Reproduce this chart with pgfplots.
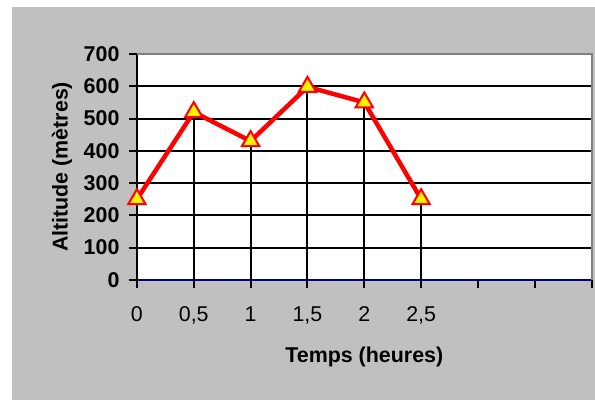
\documentclass[border=0pt]{standalone}
\usepackage{fontspec}
\setmainfont{Liberation Sans}
\usepackage{pgfplots}
\usepackage{pgfplotstable}
\pgfplotsset{compat=1.18}
\definecolor{bggray}{RGB}{192,192,192}
\definecolor{navyc}{RGB}{0,0,128}
\definecolor{bordergray}{RGB}{128,128,128}
\pgfplotstableread{
t alt
0 250
0.5 520
1 430
1.5 598
2 550
2.5 250
}\altdata
\begin{document}
\begin{tikzpicture}
\fill[white] (0,0) rectangle (595bp,400bp);
\fill[bggray] (12bp,0) rectangle (595bp,393bp);
\begin{axis}[
 at={(137bp,120bp)}, anchor=south west,
 scale only axis, width=455bp, height=226bp,
 xmin=0, xmax=4, ymin=0, ymax=700,
 axis background/.style={fill=white},
 axis x line*=bottom, axis y line*=left,
 x axis line style={draw=navyc, line width=2bp},
 y axis line style={draw=black, line width=2bp},
 xtick={0,0.5,...,4}, xticklabels={0,{0,5},1,{1,5},2,{2,5},,,},
 ytick={0,100,...,700},
 yticklabels={0,100,200,300,400,500,600,700},
 tick align=outside, major tick length=8bp,
 tick style={black, line width=2bp},
 ymajorgrids, grid style={black, line width=2bp},
 xticklabel style={font=\fontsize{21.5}{24}\selectfont, yshift=-15bp},
 yticklabel style={font=\fontsize{21.5}{24}\selectfont\bfseries, xshift=-6bp},
 xlabel={Temps (heures)},
 ylabel={Altitude (mètres)},
 xlabel style={font=\fontsize{21.5}{24}\selectfont\bfseries, at={(axis description cs:0.5,-0.366)}, anchor=base},
 ylabel style={font=\fontsize{21.5}{24}\selectfont\bfseries, at={(axis description cs:-0.165,0.5)}, anchor=center},
 clip=false,
]
\addplot[ycomb, black, line width=2bp, no marks] table[x=t,y=alt] {\altdata};
\draw[bordergray, line width=2bp] (rel axis cs:0,1) -- (rel axis cs:1,1) -- (rel axis cs:1,0);
\addplot[red, line width=4.5bp, mark=triangle*, mark size=10bp,
  mark options={fill=yellow, draw=red, line width=2bp, solid}] table[x=t,y=alt] {\altdata};
\end{axis}
\end{tikzpicture}
\end{document}
